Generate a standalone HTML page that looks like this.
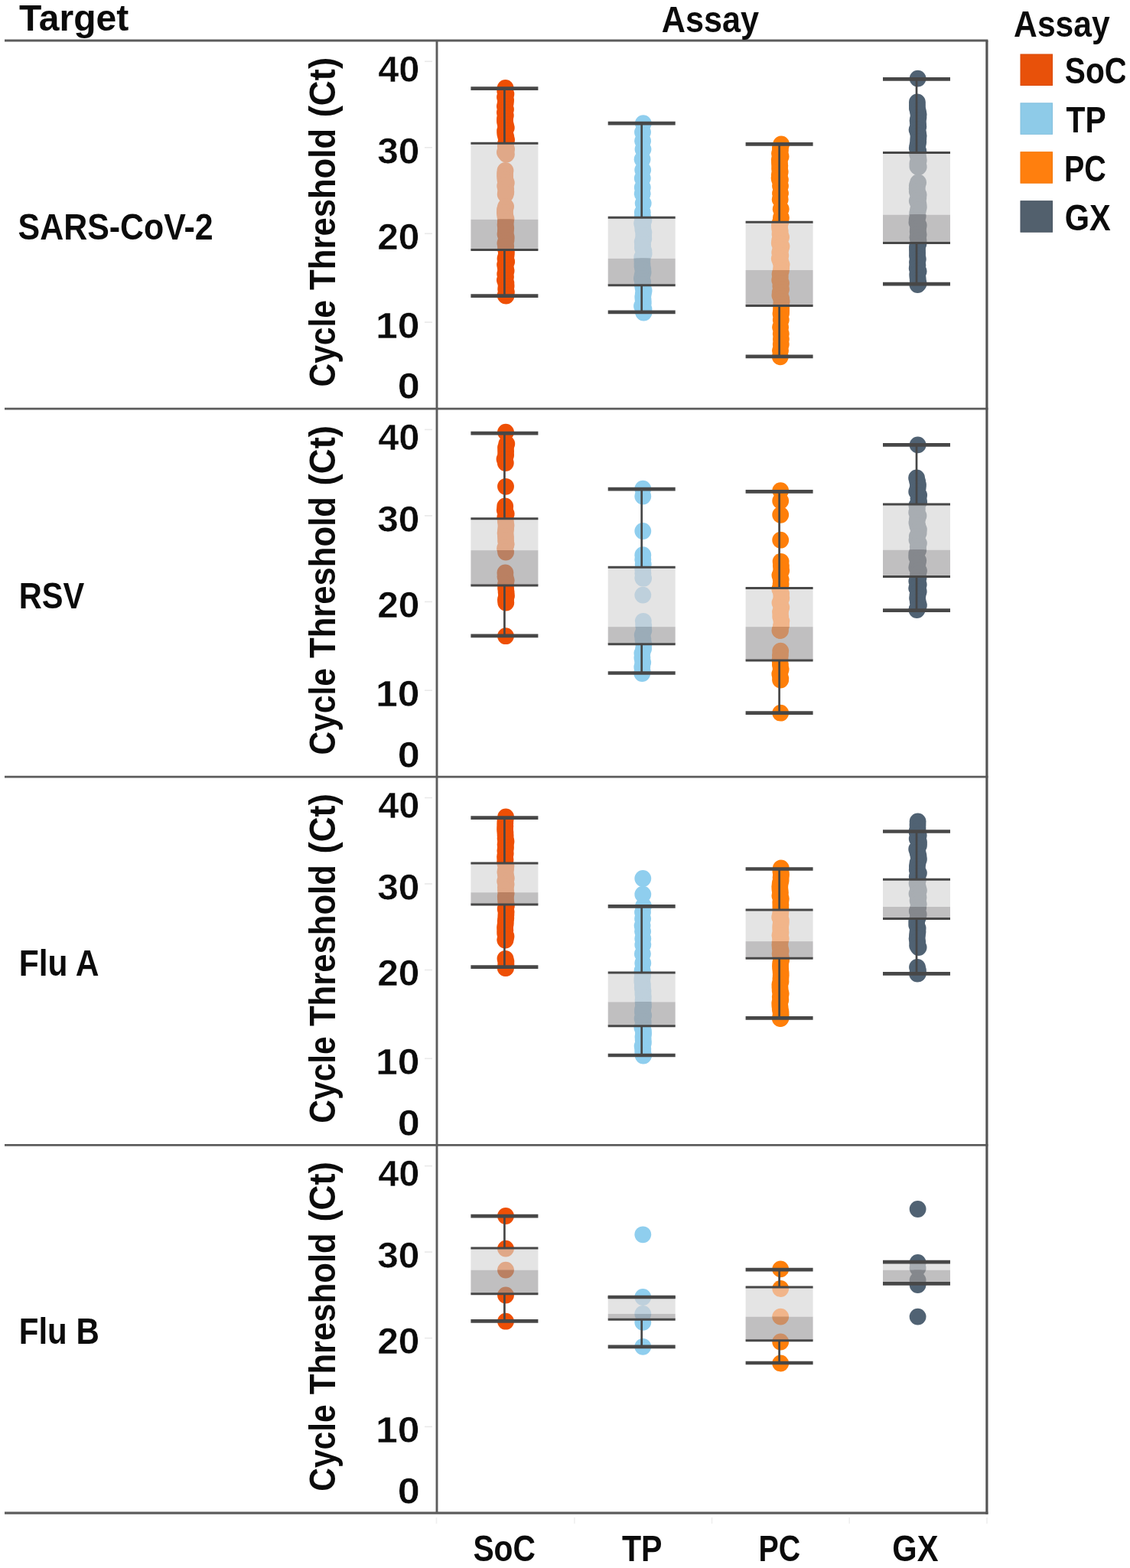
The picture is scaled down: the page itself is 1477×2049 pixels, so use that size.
<!DOCTYPE html>
<html lang="en"><head><meta charset="utf-8"><title>Cycle Threshold by Assay and Target</title>
<style>
html,body{margin:0;padding:0;background:#fff;}
body{width:1477px;height:2049px;overflow:hidden;}
svg{display:block;}
text{font-family:"Liberation Sans", "DejaVu Sans", sans-serif;font-weight:bold;font-size:48px;fill:#0b0b0b;stroke-linejoin:round;}
text.num{stroke:#fff;stroke-width:0.45px;}
text.rot{stroke:none;}
</style></head><body>
<svg width="1477" height="2049" viewBox="0 0 1477 2049">
<rect width="1477" height="2049" fill="#fff"/>

<defs><g id="d00"><circle cx="660.6" cy="115.0" r="10.9"/><circle cx="660.2" cy="119.0" r="10.9"/><circle cx="661.4" cy="123.0" r="10.9"/><circle cx="660.0" cy="127.0" r="10.9"/><circle cx="661.1" cy="131.0" r="10.9"/><circle cx="660.7" cy="135.0" r="10.9"/><circle cx="659.9" cy="139.0" r="10.9"/><circle cx="661.0" cy="143.0" r="10.9"/><circle cx="659.9" cy="147.0" r="10.9"/><circle cx="660.8" cy="151.0" r="10.9"/><circle cx="660.0" cy="155.0" r="10.9"/><circle cx="660.0" cy="159.0" r="10.9"/><circle cx="660.8" cy="163.0" r="10.9"/><circle cx="661.8" cy="167.0" r="10.9"/><circle cx="660.1" cy="171.0" r="10.9"/><circle cx="660.3" cy="175.0" r="10.9"/><circle cx="661.3" cy="179.0" r="10.9"/><circle cx="662.1" cy="183.0" r="10.9"/><circle cx="661.2" cy="187.0" r="10.9"/><circle cx="660.8" cy="191.0" r="10.9"/><circle cx="662.1" cy="195.0" r="10.9"/><circle cx="659.9" cy="199.0" r="10.9"/><circle cx="661.9" cy="201.5" r="10.9"/><circle cx="660.5" cy="223.0" r="10.9"/><circle cx="660.1" cy="227.0" r="10.9"/><circle cx="660.1" cy="231.0" r="10.9"/><circle cx="660.5" cy="235.0" r="10.9"/><circle cx="661.8" cy="239.0" r="10.9"/><circle cx="660.2" cy="243.0" r="10.9"/><circle cx="661.2" cy="247.0" r="10.9"/><circle cx="661.3" cy="251.0" r="10.9"/><circle cx="660.7" cy="254.0" r="10.9"/><circle cx="661.1" cy="270.0" r="10.9"/><circle cx="660.0" cy="274.0" r="10.9"/><circle cx="659.9" cy="278.0" r="10.9"/><circle cx="660.3" cy="282.0" r="10.9"/><circle cx="661.4" cy="286.0" r="10.9"/><circle cx="660.8" cy="290.0" r="10.9"/><circle cx="660.6" cy="294.0" r="10.9"/><circle cx="661.2" cy="298.0" r="10.9"/><circle cx="660.9" cy="302.0" r="10.9"/><circle cx="660.5" cy="306.0" r="10.9"/><circle cx="661.7" cy="310.0" r="10.9"/><circle cx="661.5" cy="314.0" r="10.9"/><circle cx="660.4" cy="318.0" r="10.9"/><circle cx="661.2" cy="322.0" r="10.9"/><circle cx="661.1" cy="326.0" r="10.9"/><circle cx="661.9" cy="330.0" r="10.9"/><circle cx="661.6" cy="334.0" r="10.9"/><circle cx="660.5" cy="338.0" r="10.9"/><circle cx="662.2" cy="342.0" r="10.9"/><circle cx="660.1" cy="346.0" r="10.9"/><circle cx="660.8" cy="350.0" r="10.9"/><circle cx="661.6" cy="354.0" r="10.9"/><circle cx="660.2" cy="358.0" r="10.9"/><circle cx="661.0" cy="362.0" r="10.9"/><circle cx="659.9" cy="366.0" r="10.9"/><circle cx="661.4" cy="370.0" r="10.9"/><circle cx="661.6" cy="374.0" r="10.9"/><circle cx="661.2" cy="378.0" r="10.9"/><circle cx="661.9" cy="382.0" r="10.9"/><circle cx="660.6" cy="386.0" r="10.9"/><circle cx="661.5" cy="386.6" r="10.9"/></g><clipPath id="cl00"><rect x="615.4" y="187.2" width="88.0" height="99.5"/></clipPath><clipPath id="cd00"><rect x="615.4" y="286.7" width="88.0" height="39.7"/></clipPath></defs>
<use href="#d00" fill="#EE4F05"/>
<rect x="615.4" y="187.2" width="88.0" height="99.5" fill="#e4e4e4"/>
<rect x="615.4" y="286.7" width="88.0" height="39.7" fill="#c0bfc0"/>
<g clip-path="url(#cl00)"><use href="#d00" fill="#E0A888"/></g>
<g clip-path="url(#cd00)"><use href="#d00" fill="#BA8062"/></g>
<line x1="659.4" x2="659.4" y1="115.6" y2="187.2" stroke="#474747" stroke-width="2.7"/>
<line x1="659.4" x2="659.4" y1="326.4" y2="386.6" stroke="#474747" stroke-width="2.7"/>
<line x1="615.4" x2="703.4" y1="187.2" y2="187.2" stroke="#474747" stroke-width="3"/>
<line x1="615.4" x2="703.4" y1="326.4" y2="326.4" stroke="#474747" stroke-width="3"/>
<line x1="615.4" x2="703.4" y1="115.6" y2="115.6" stroke="#474747" stroke-width="4.7"/>
<line x1="615.4" x2="703.4" y1="386.6" y2="386.6" stroke="#474747" stroke-width="4.7"/>
<defs><g id="d01"><circle cx="840.8" cy="161.2" r="10.9"/><circle cx="840.0" cy="172.8" r="10.9"/><circle cx="840.1" cy="184.3" r="10.9"/><circle cx="840.5" cy="195.1" r="10.9"/><circle cx="839.6" cy="208.3" r="10.9"/><circle cx="840.2" cy="222.1" r="10.9"/><circle cx="839.8" cy="233.0" r="10.9"/><circle cx="839.8" cy="245.0" r="10.9"/><circle cx="839.7" cy="253.3" r="10.9"/><circle cx="840.7" cy="265.6" r="10.9"/><circle cx="839.8" cy="277.5" r="10.9"/><circle cx="839.9" cy="284.0" r="10.9"/><circle cx="840.0" cy="284.0" r="10.9"/><circle cx="841.4" cy="288.0" r="10.9"/><circle cx="839.1" cy="292.0" r="10.9"/><circle cx="840.2" cy="296.0" r="10.9"/><circle cx="840.4" cy="300.0" r="10.9"/><circle cx="841.4" cy="304.0" r="10.9"/><circle cx="841.2" cy="308.0" r="10.9"/><circle cx="841.3" cy="312.0" r="10.9"/><circle cx="839.7" cy="316.0" r="10.9"/><circle cx="840.1" cy="320.0" r="10.9"/><circle cx="839.9" cy="324.0" r="10.9"/><circle cx="841.4" cy="328.0" r="10.9"/><circle cx="841.6" cy="332.0" r="10.9"/><circle cx="839.3" cy="336.0" r="10.9"/><circle cx="839.4" cy="340.0" r="10.9"/><circle cx="839.5" cy="344.0" r="10.9"/><circle cx="839.5" cy="348.0" r="10.9"/><circle cx="840.3" cy="352.0" r="10.9"/><circle cx="840.6" cy="356.0" r="10.9"/><circle cx="839.6" cy="360.0" r="10.9"/><circle cx="838.9" cy="364.0" r="10.9"/><circle cx="840.1" cy="368.0" r="10.9"/><circle cx="839.9" cy="372.0" r="10.9"/><circle cx="840.5" cy="376.0" r="10.9"/><circle cx="841.6" cy="380.0" r="10.9"/><circle cx="840.8" cy="384.0" r="10.9"/><circle cx="840.3" cy="388.0" r="10.9"/><circle cx="840.6" cy="392.0" r="10.9"/><circle cx="840.8" cy="396.0" r="10.9"/><circle cx="839.0" cy="400.0" r="10.9"/><circle cx="841.5" cy="404.0" r="10.9"/><circle cx="841.1" cy="408.0" r="10.9"/><circle cx="841.4" cy="408.5" r="10.9"/></g><clipPath id="cl01"><rect x="794.7" y="284.2" width="88.0" height="53.6"/></clipPath><clipPath id="cd01"><rect x="794.7" y="337.8" width="88.0" height="34.9"/></clipPath></defs>
<use href="#d01" fill="#8FCEEE"/>
<rect x="794.7" y="284.2" width="88.0" height="53.6" fill="#e4e4e4"/>
<rect x="794.7" y="337.8" width="88.0" height="34.9" fill="#c0bfc0"/>
<g clip-path="url(#cl01)"><use href="#d01" fill="#BED0DC"/></g>
<g clip-path="url(#cd01)"><use href="#d01" fill="#9BACB8"/></g>
<line x1="838.7" x2="838.7" y1="161.1" y2="284.2" stroke="#474747" stroke-width="2.7"/>
<line x1="838.7" x2="838.7" y1="372.7" y2="407.8" stroke="#474747" stroke-width="2.7"/>
<line x1="794.7" x2="882.7" y1="284.2" y2="284.2" stroke="#474747" stroke-width="3"/>
<line x1="794.7" x2="882.7" y1="372.7" y2="372.7" stroke="#474747" stroke-width="3"/>
<line x1="794.7" x2="882.7" y1="161.1" y2="161.1" stroke="#474747" stroke-width="4.7"/>
<line x1="794.7" x2="882.7" y1="407.8" y2="407.8" stroke="#474747" stroke-width="4.7"/>
<defs><g id="d02"><circle cx="1021.1" cy="188.5" r="10.9"/><circle cx="1019.9" cy="192.5" r="10.9"/><circle cx="1019.9" cy="196.5" r="10.9"/><circle cx="1019.0" cy="200.5" r="10.9"/><circle cx="1020.6" cy="204.5" r="10.9"/><circle cx="1018.8" cy="208.5" r="10.9"/><circle cx="1018.9" cy="212.5" r="10.9"/><circle cx="1019.3" cy="216.5" r="10.9"/><circle cx="1019.1" cy="220.5" r="10.9"/><circle cx="1019.7" cy="224.5" r="10.9"/><circle cx="1018.8" cy="228.5" r="10.9"/><circle cx="1018.6" cy="232.5" r="10.9"/><circle cx="1019.1" cy="235.0" r="10.9"/><circle cx="1019.9" cy="235.0" r="10.9"/><circle cx="1020.0" cy="243.1" r="10.9"/><circle cx="1020.0" cy="252.8" r="10.9"/><circle cx="1019.7" cy="260.4" r="10.9"/><circle cx="1020.7" cy="273.2" r="10.9"/><circle cx="1020.9" cy="284.4" r="10.9"/><circle cx="1020.2" cy="290.0" r="10.9"/><circle cx="1020.2" cy="290.0" r="10.9"/><circle cx="1019.0" cy="294.0" r="10.9"/><circle cx="1019.1" cy="298.0" r="10.9"/><circle cx="1019.7" cy="302.0" r="10.9"/><circle cx="1019.5" cy="306.0" r="10.9"/><circle cx="1021.1" cy="310.0" r="10.9"/><circle cx="1019.2" cy="314.0" r="10.9"/><circle cx="1018.8" cy="318.0" r="10.9"/><circle cx="1021.5" cy="322.0" r="10.9"/><circle cx="1020.3" cy="326.0" r="10.9"/><circle cx="1019.2" cy="330.0" r="10.9"/><circle cx="1020.3" cy="334.0" r="10.9"/><circle cx="1018.8" cy="338.0" r="10.9"/><circle cx="1020.3" cy="342.0" r="10.9"/><circle cx="1021.6" cy="346.0" r="10.9"/><circle cx="1021.2" cy="350.0" r="10.9"/><circle cx="1020.8" cy="354.0" r="10.9"/><circle cx="1019.5" cy="358.0" r="10.9"/><circle cx="1019.8" cy="362.0" r="10.9"/><circle cx="1019.2" cy="366.0" r="10.9"/><circle cx="1021.0" cy="370.0" r="10.9"/><circle cx="1020.3" cy="374.0" r="10.9"/><circle cx="1021.0" cy="378.0" r="10.9"/><circle cx="1019.7" cy="382.0" r="10.9"/><circle cx="1019.4" cy="386.0" r="10.9"/><circle cx="1021.1" cy="390.0" r="10.9"/><circle cx="1021.6" cy="394.0" r="10.9"/><circle cx="1021.2" cy="398.0" r="10.9"/><circle cx="1021.1" cy="402.0" r="10.9"/><circle cx="1021.1" cy="406.0" r="10.9"/><circle cx="1020.9" cy="410.0" r="10.9"/><circle cx="1020.5" cy="410.0" r="10.9"/><circle cx="1020.8" cy="418.0" r="10.9"/><circle cx="1020.1" cy="427.5" r="10.9"/><circle cx="1020.8" cy="436.2" r="10.9"/><circle cx="1020.9" cy="443.1" r="10.9"/><circle cx="1020.8" cy="450.0" r="10.9"/><circle cx="1020.0" cy="458.3" r="10.9"/><circle cx="1019.8" cy="466.3" r="10.9"/></g><clipPath id="cl02"><rect x="974.6" y="290.3" width="88.0" height="62.7"/></clipPath><clipPath id="cd02"><rect x="974.6" y="353.0" width="88.0" height="46.5"/></clipPath></defs>
<use href="#d02" fill="#FF7F0A"/>
<rect x="974.6" y="290.3" width="88.0" height="62.7" fill="#e4e4e4"/>
<rect x="974.6" y="353.0" width="88.0" height="46.5" fill="#c0bfc0"/>
<g clip-path="url(#cl02)"><use href="#d02" fill="#F1B58A"/></g>
<g clip-path="url(#cd02)"><use href="#d02" fill="#CD8F64"/></g>
<line x1="1018.6" x2="1018.6" y1="188.4" y2="290.3" stroke="#474747" stroke-width="2.7"/>
<line x1="1018.6" x2="1018.6" y1="399.5" y2="465.8" stroke="#474747" stroke-width="2.7"/>
<line x1="974.6" x2="1062.6" y1="290.3" y2="290.3" stroke="#474747" stroke-width="3"/>
<line x1="974.6" x2="1062.6" y1="399.5" y2="399.5" stroke="#474747" stroke-width="3"/>
<line x1="974.6" x2="1062.6" y1="188.4" y2="188.4" stroke="#474747" stroke-width="4.7"/>
<line x1="974.6" x2="1062.6" y1="465.8" y2="465.8" stroke="#474747" stroke-width="4.7"/>
<defs><g id="d03"><circle cx="1199.6" cy="102.6" r="10.9"/><circle cx="1198.9" cy="133.5" r="10.9"/><circle cx="1198.9" cy="137.5" r="10.9"/><circle cx="1198.9" cy="141.5" r="10.9"/><circle cx="1199.9" cy="145.5" r="10.9"/><circle cx="1200.6" cy="149.5" r="10.9"/><circle cx="1200.4" cy="153.5" r="10.9"/><circle cx="1199.6" cy="157.5" r="10.9"/><circle cx="1200.0" cy="161.5" r="10.9"/><circle cx="1200.3" cy="165.5" r="10.9"/><circle cx="1198.6" cy="169.5" r="10.9"/><circle cx="1200.0" cy="173.5" r="10.9"/><circle cx="1200.6" cy="177.5" r="10.9"/><circle cx="1200.3" cy="181.5" r="10.9"/><circle cx="1200.2" cy="185.5" r="10.9"/><circle cx="1199.5" cy="189.5" r="10.9"/><circle cx="1198.8" cy="193.5" r="10.9"/><circle cx="1200.3" cy="197.5" r="10.9"/><circle cx="1199.2" cy="201.5" r="10.9"/><circle cx="1200.3" cy="205.5" r="10.9"/><circle cx="1200.7" cy="209.5" r="10.9"/><circle cx="1199.4" cy="213.5" r="10.9"/><circle cx="1199.4" cy="217.5" r="10.9"/><circle cx="1200.7" cy="218.0" r="10.9"/><circle cx="1200.1" cy="238.5" r="10.9"/><circle cx="1198.8" cy="242.5" r="10.9"/><circle cx="1198.7" cy="246.5" r="10.9"/><circle cx="1198.8" cy="250.5" r="10.9"/><circle cx="1200.6" cy="254.5" r="10.9"/><circle cx="1200.3" cy="258.5" r="10.9"/><circle cx="1198.8" cy="262.5" r="10.9"/><circle cx="1200.4" cy="266.5" r="10.9"/><circle cx="1200.8" cy="270.5" r="10.9"/><circle cx="1200.0" cy="274.5" r="10.9"/><circle cx="1199.2" cy="278.5" r="10.9"/><circle cx="1199.7" cy="282.5" r="10.9"/><circle cx="1198.7" cy="286.5" r="10.9"/><circle cx="1198.4" cy="290.5" r="10.9"/><circle cx="1200.7" cy="294.5" r="10.9"/><circle cx="1200.0" cy="298.5" r="10.9"/><circle cx="1199.7" cy="302.5" r="10.9"/><circle cx="1200.6" cy="306.5" r="10.9"/><circle cx="1199.4" cy="310.5" r="10.9"/><circle cx="1200.5" cy="314.5" r="10.9"/><circle cx="1200.4" cy="318.5" r="10.9"/><circle cx="1198.9" cy="322.5" r="10.9"/><circle cx="1199.0" cy="326.5" r="10.9"/><circle cx="1199.1" cy="330.5" r="10.9"/><circle cx="1199.0" cy="334.5" r="10.9"/><circle cx="1199.8" cy="338.5" r="10.9"/><circle cx="1199.0" cy="342.5" r="10.9"/><circle cx="1199.4" cy="346.5" r="10.9"/><circle cx="1198.7" cy="350.5" r="10.9"/><circle cx="1200.6" cy="354.5" r="10.9"/><circle cx="1199.2" cy="358.5" r="10.9"/><circle cx="1199.5" cy="362.5" r="10.9"/><circle cx="1199.8" cy="366.5" r="10.9"/><circle cx="1200.6" cy="370.5" r="10.9"/><circle cx="1199.4" cy="372.0" r="10.9"/></g><clipPath id="cl03"><rect x="1154.0" y="199.4" width="88.0" height="81.2"/></clipPath><clipPath id="cd03"><rect x="1154.0" y="280.6" width="88.0" height="37.0"/></clipPath></defs>
<use href="#d03" fill="#506273"/>
<rect x="1154.0" y="199.4" width="88.0" height="81.2" fill="#e4e4e4"/>
<rect x="1154.0" y="280.6" width="88.0" height="37.0" fill="#c0bfc0"/>
<g clip-path="url(#cl03)"><use href="#d03" fill="#A8ADB2"/></g>
<g clip-path="url(#cd03)"><use href="#d03" fill="#85888D"/></g>
<line x1="1198.0" x2="1198.0" y1="103.4" y2="199.4" stroke="#474747" stroke-width="2.7"/>
<line x1="1198.0" x2="1198.0" y1="317.6" y2="371.2" stroke="#474747" stroke-width="2.7"/>
<line x1="1154.0" x2="1242.0" y1="199.4" y2="199.4" stroke="#474747" stroke-width="3"/>
<line x1="1154.0" x2="1242.0" y1="317.6" y2="317.6" stroke="#474747" stroke-width="3"/>
<line x1="1154.0" x2="1242.0" y1="103.4" y2="103.4" stroke="#474747" stroke-width="4.7"/>
<line x1="1154.0" x2="1242.0" y1="371.2" y2="371.2" stroke="#474747" stroke-width="4.7"/>
<defs><g id="d10"><circle cx="661.0" cy="564.7" r="10.9"/><circle cx="662.3" cy="580.0" r="10.9"/><circle cx="661.0" cy="585.0" r="10.9"/><circle cx="661.1" cy="590.0" r="10.9"/><circle cx="661.1" cy="595.0" r="10.9"/><circle cx="659.5" cy="600.0" r="10.9"/><circle cx="660.8" cy="605.0" r="10.9"/><circle cx="661.0" cy="635.8" r="10.9"/><circle cx="660.2" cy="661.5" r="10.9"/><circle cx="659.8" cy="666.5" r="10.9"/><circle cx="661.7" cy="671.5" r="10.9"/><circle cx="660.2" cy="676.5" r="10.9"/><circle cx="660.9" cy="681.5" r="10.9"/><circle cx="661.5" cy="686.5" r="10.9"/><circle cx="661.1" cy="691.5" r="10.9"/><circle cx="660.6" cy="696.5" r="10.9"/><circle cx="661.0" cy="701.5" r="10.9"/><circle cx="661.1" cy="706.5" r="10.9"/><circle cx="661.7" cy="711.5" r="10.9"/><circle cx="660.1" cy="716.5" r="10.9"/><circle cx="661.1" cy="721.5" r="10.9"/><circle cx="660.4" cy="748.5" r="10.9"/><circle cx="660.5" cy="753.5" r="10.9"/><circle cx="661.7" cy="758.5" r="10.9"/><circle cx="661.0" cy="763.5" r="10.9"/><circle cx="661.1" cy="768.5" r="10.9"/><circle cx="661.6" cy="773.5" r="10.9"/><circle cx="662.0" cy="778.5" r="10.9"/><circle cx="660.9" cy="783.5" r="10.9"/><circle cx="661.3" cy="787.5" r="10.9"/><circle cx="661.0" cy="831.2" r="10.9"/></g><clipPath id="cl10"><rect x="615.4" y="677.7" width="88.0" height="41.4"/></clipPath><clipPath id="cd10"><rect x="615.4" y="719.1" width="88.0" height="45.9"/></clipPath></defs>
<use href="#d10" fill="#EE4F05"/>
<rect x="615.4" y="677.7" width="88.0" height="41.4" fill="#e4e4e4"/>
<rect x="615.4" y="719.1" width="88.0" height="45.9" fill="#c0bfc0"/>
<g clip-path="url(#cl10)"><use href="#d10" fill="#E0A888"/></g>
<g clip-path="url(#cd10)"><use href="#d10" fill="#BA8062"/></g>
<line x1="659.4" x2="659.4" y1="566.1" y2="677.7" stroke="#474747" stroke-width="2.7"/>
<line x1="659.4" x2="659.4" y1="765.0" y2="830.8" stroke="#474747" stroke-width="2.7"/>
<line x1="615.4" x2="703.4" y1="677.7" y2="677.7" stroke="#474747" stroke-width="3"/>
<line x1="615.4" x2="703.4" y1="765.0" y2="765.0" stroke="#474747" stroke-width="3"/>
<line x1="615.4" x2="703.4" y1="566.1" y2="566.1" stroke="#474747" stroke-width="4.7"/>
<line x1="615.4" x2="703.4" y1="830.8" y2="830.8" stroke="#474747" stroke-width="4.7"/>
<defs><g id="d11"><circle cx="840.3" cy="638.7" r="10.9"/><circle cx="840.3" cy="648.5" r="10.9"/><circle cx="840.3" cy="694.0" r="10.9"/><circle cx="840.3" cy="725.2" r="10.9"/><circle cx="840.3" cy="731.2" r="10.9"/><circle cx="840.7" cy="737.2" r="10.9"/><circle cx="840.2" cy="743.2" r="10.9"/><circle cx="840.4" cy="749.2" r="10.9"/><circle cx="840.3" cy="755.2" r="10.9"/><circle cx="841.1" cy="755.7" r="10.9"/><circle cx="840.3" cy="777.6" r="10.9"/><circle cx="840.8" cy="811.8" r="10.9"/><circle cx="841.2" cy="817.8" r="10.9"/><circle cx="841.4" cy="823.8" r="10.9"/><circle cx="839.7" cy="829.8" r="10.9"/><circle cx="840.4" cy="835.8" r="10.9"/><circle cx="841.4" cy="841.8" r="10.9"/><circle cx="841.1" cy="847.8" r="10.9"/><circle cx="839.4" cy="853.8" r="10.9"/><circle cx="839.4" cy="859.8" r="10.9"/><circle cx="840.2" cy="865.8" r="10.9"/><circle cx="839.3" cy="871.8" r="10.9"/><circle cx="839.7" cy="877.8" r="10.9"/><circle cx="839.3" cy="880.0" r="10.9"/></g><clipPath id="cl11"><rect x="794.7" y="741.3" width="88.0" height="77.8"/></clipPath><clipPath id="cd11"><rect x="794.7" y="819.1" width="88.0" height="22.6"/></clipPath></defs>
<use href="#d11" fill="#8FCEEE"/>
<rect x="794.7" y="741.3" width="88.0" height="77.8" fill="#e4e4e4"/>
<rect x="794.7" y="819.1" width="88.0" height="22.6" fill="#c0bfc0"/>
<g clip-path="url(#cl11)"><use href="#d11" fill="#BED0DC"/></g>
<g clip-path="url(#cd11)"><use href="#d11" fill="#9BACB8"/></g>
<line x1="838.7" x2="838.7" y1="639.2" y2="741.3" stroke="#474747" stroke-width="2.7"/>
<line x1="838.7" x2="838.7" y1="841.7" y2="879.5" stroke="#474747" stroke-width="2.7"/>
<line x1="794.7" x2="882.7" y1="741.3" y2="741.3" stroke="#474747" stroke-width="3"/>
<line x1="794.7" x2="882.7" y1="841.7" y2="841.7" stroke="#474747" stroke-width="3"/>
<line x1="794.7" x2="882.7" y1="639.2" y2="639.2" stroke="#474747" stroke-width="4.7"/>
<line x1="794.7" x2="882.7" y1="879.5" y2="879.5" stroke="#474747" stroke-width="4.7"/>
<defs><g id="d12"><circle cx="1020.2" cy="641.1" r="10.9"/><circle cx="1020.2" cy="654.5" r="10.9"/><circle cx="1020.2" cy="672.8" r="10.9"/><circle cx="1020.2" cy="705.7" r="10.9"/><circle cx="1020.6" cy="733.8" r="10.9"/><circle cx="1020.9" cy="739.8" r="10.9"/><circle cx="1021.2" cy="745.8" r="10.9"/><circle cx="1019.4" cy="751.8" r="10.9"/><circle cx="1020.7" cy="757.8" r="10.9"/><circle cx="1020.6" cy="763.8" r="10.9"/><circle cx="1019.3" cy="769.8" r="10.9"/><circle cx="1021.1" cy="775.8" r="10.9"/><circle cx="1021.3" cy="781.8" r="10.9"/><circle cx="1019.5" cy="787.8" r="10.9"/><circle cx="1021.3" cy="793.8" r="10.9"/><circle cx="1020.0" cy="799.8" r="10.9"/><circle cx="1020.2" cy="805.8" r="10.9"/><circle cx="1021.4" cy="811.8" r="10.9"/><circle cx="1021.0" cy="817.8" r="10.9"/><circle cx="1019.4" cy="823.8" r="10.9"/><circle cx="1020.0" cy="823.9" r="10.9"/><circle cx="1020.2" cy="850.7" r="10.9"/><circle cx="1019.9" cy="856.7" r="10.9"/><circle cx="1019.6" cy="862.7" r="10.9"/><circle cx="1019.9" cy="868.7" r="10.9"/><circle cx="1020.6" cy="874.7" r="10.9"/><circle cx="1019.3" cy="880.7" r="10.9"/><circle cx="1020.3" cy="886.7" r="10.9"/><circle cx="1020.1" cy="888.5" r="10.9"/><circle cx="1020.2" cy="931.7" r="10.9"/></g><clipPath id="cl12"><rect x="974.6" y="768.6" width="88.0" height="50.5"/></clipPath><clipPath id="cd12"><rect x="974.6" y="819.1" width="88.0" height="43.8"/></clipPath></defs>
<use href="#d12" fill="#FF7F0A"/>
<rect x="974.6" y="768.6" width="88.0" height="50.5" fill="#e4e4e4"/>
<rect x="974.6" y="819.1" width="88.0" height="43.8" fill="#c0bfc0"/>
<g clip-path="url(#cl12)"><use href="#d12" fill="#F1B58A"/></g>
<g clip-path="url(#cd12)"><use href="#d12" fill="#CD8F64"/></g>
<line x1="1018.6" x2="1018.6" y1="642.4" y2="768.6" stroke="#474747" stroke-width="2.7"/>
<line x1="1018.6" x2="1018.6" y1="862.9" y2="931.7" stroke="#474747" stroke-width="2.7"/>
<line x1="974.6" x2="1062.6" y1="768.6" y2="768.6" stroke="#474747" stroke-width="3"/>
<line x1="974.6" x2="1062.6" y1="862.9" y2="862.9" stroke="#474747" stroke-width="3"/>
<line x1="974.6" x2="1062.6" y1="642.4" y2="642.4" stroke="#474747" stroke-width="4.7"/>
<line x1="974.6" x2="1062.6" y1="931.7" y2="931.7" stroke="#474747" stroke-width="4.7"/>
<defs><g id="d13"><circle cx="1199.6" cy="581.4" r="10.9"/><circle cx="1198.1" cy="624.5" r="10.9"/><circle cx="1199.1" cy="629.0" r="10.9"/><circle cx="1200.0" cy="633.5" r="10.9"/><circle cx="1199.6" cy="638.0" r="10.9"/><circle cx="1198.2" cy="642.5" r="10.9"/><circle cx="1201.1" cy="647.0" r="10.9"/><circle cx="1200.5" cy="651.5" r="10.9"/><circle cx="1201.1" cy="656.0" r="10.9"/><circle cx="1198.4" cy="660.5" r="10.9"/><circle cx="1198.9" cy="665.0" r="10.9"/><circle cx="1198.2" cy="669.5" r="10.9"/><circle cx="1200.5" cy="674.0" r="10.9"/><circle cx="1198.9" cy="678.5" r="10.9"/><circle cx="1198.4" cy="683.0" r="10.9"/><circle cx="1199.4" cy="687.5" r="10.9"/><circle cx="1200.9" cy="692.0" r="10.9"/><circle cx="1200.6" cy="696.5" r="10.9"/><circle cx="1198.8" cy="701.0" r="10.9"/><circle cx="1198.5" cy="705.5" r="10.9"/><circle cx="1200.9" cy="710.0" r="10.9"/><circle cx="1199.8" cy="714.5" r="10.9"/><circle cx="1200.2" cy="719.0" r="10.9"/><circle cx="1198.3" cy="723.5" r="10.9"/><circle cx="1198.2" cy="728.0" r="10.9"/><circle cx="1200.2" cy="732.5" r="10.9"/><circle cx="1199.4" cy="737.0" r="10.9"/><circle cx="1198.3" cy="741.5" r="10.9"/><circle cx="1201.0" cy="746.0" r="10.9"/><circle cx="1200.0" cy="750.5" r="10.9"/><circle cx="1200.5" cy="755.0" r="10.9"/><circle cx="1198.3" cy="759.5" r="10.9"/><circle cx="1200.7" cy="764.0" r="10.9"/><circle cx="1198.2" cy="768.5" r="10.9"/><circle cx="1200.7" cy="773.0" r="10.9"/><circle cx="1199.5" cy="777.5" r="10.9"/><circle cx="1199.1" cy="782.0" r="10.9"/><circle cx="1199.8" cy="786.5" r="10.9"/><circle cx="1200.9" cy="791.0" r="10.9"/><circle cx="1198.9" cy="795.5" r="10.9"/><circle cx="1198.4" cy="797.0" r="10.9"/></g><clipPath id="cl13"><rect x="1154.0" y="658.9" width="88.0" height="59.7"/></clipPath><clipPath id="cd13"><rect x="1154.0" y="718.6" width="88.0" height="34.9"/></clipPath></defs>
<use href="#d13" fill="#506273"/>
<rect x="1154.0" y="658.9" width="88.0" height="59.7" fill="#e4e4e4"/>
<rect x="1154.0" y="718.6" width="88.0" height="34.9" fill="#c0bfc0"/>
<g clip-path="url(#cl13)"><use href="#d13" fill="#A8ADB2"/></g>
<g clip-path="url(#cd13)"><use href="#d13" fill="#85888D"/></g>
<line x1="1198.0" x2="1198.0" y1="581.4" y2="658.9" stroke="#474747" stroke-width="2.7"/>
<line x1="1198.0" x2="1198.0" y1="753.5" y2="797.6" stroke="#474747" stroke-width="2.7"/>
<line x1="1154.0" x2="1242.0" y1="658.9" y2="658.9" stroke="#474747" stroke-width="3"/>
<line x1="1154.0" x2="1242.0" y1="753.5" y2="753.5" stroke="#474747" stroke-width="3"/>
<line x1="1154.0" x2="1242.0" y1="581.4" y2="581.4" stroke="#474747" stroke-width="4.7"/>
<line x1="1154.0" x2="1242.0" y1="797.6" y2="797.6" stroke="#474747" stroke-width="4.7"/>
<defs><g id="d20"><circle cx="661.1" cy="1067.5" r="10.9"/><circle cx="660.5" cy="1071.5" r="10.9"/><circle cx="660.3" cy="1075.5" r="10.9"/><circle cx="660.3" cy="1079.5" r="10.9"/><circle cx="660.1" cy="1083.5" r="10.9"/><circle cx="660.4" cy="1087.5" r="10.9"/><circle cx="660.6" cy="1091.5" r="10.9"/><circle cx="660.6" cy="1095.5" r="10.9"/><circle cx="661.5" cy="1099.5" r="10.9"/><circle cx="660.6" cy="1103.5" r="10.9"/><circle cx="661.0" cy="1107.5" r="10.9"/><circle cx="660.4" cy="1111.5" r="10.9"/><circle cx="660.7" cy="1115.5" r="10.9"/><circle cx="660.1" cy="1119.5" r="10.9"/><circle cx="660.5" cy="1123.5" r="10.9"/><circle cx="660.1" cy="1127.5" r="10.9"/><circle cx="661.4" cy="1131.5" r="10.9"/><circle cx="661.1" cy="1135.5" r="10.9"/><circle cx="660.4" cy="1139.5" r="10.9"/><circle cx="661.0" cy="1143.5" r="10.9"/><circle cx="661.8" cy="1147.5" r="10.9"/><circle cx="660.2" cy="1151.5" r="10.9"/><circle cx="661.6" cy="1155.5" r="10.9"/><circle cx="660.9" cy="1159.5" r="10.9"/><circle cx="661.0" cy="1163.5" r="10.9"/><circle cx="661.6" cy="1167.5" r="10.9"/><circle cx="660.8" cy="1171.5" r="10.9"/><circle cx="661.0" cy="1175.5" r="10.9"/><circle cx="661.4" cy="1179.5" r="10.9"/><circle cx="661.9" cy="1183.5" r="10.9"/><circle cx="660.7" cy="1187.5" r="10.9"/><circle cx="661.6" cy="1191.5" r="10.9"/><circle cx="661.4" cy="1195.5" r="10.9"/><circle cx="661.3" cy="1199.5" r="10.9"/><circle cx="660.8" cy="1203.5" r="10.9"/><circle cx="660.7" cy="1207.5" r="10.9"/><circle cx="660.1" cy="1211.5" r="10.9"/><circle cx="660.3" cy="1215.5" r="10.9"/><circle cx="660.2" cy="1219.5" r="10.9"/><circle cx="661.5" cy="1223.5" r="10.9"/><circle cx="660.5" cy="1227.5" r="10.9"/><circle cx="660.4" cy="1228.5" r="10.9"/><circle cx="660.5" cy="1252.8" r="10.9"/><circle cx="661.4" cy="1256.8" r="10.9"/><circle cx="661.4" cy="1260.8" r="10.9"/><circle cx="661.2" cy="1264.8" r="10.9"/><circle cx="660.7" cy="1265.0" r="10.9"/></g><clipPath id="cl20"><rect x="615.4" y="1128.0" width="88.0" height="38.2"/></clipPath><clipPath id="cd20"><rect x="615.4" y="1166.2" width="88.0" height="15.9"/></clipPath></defs>
<use href="#d20" fill="#EE4F05"/>
<rect x="615.4" y="1128.0" width="88.0" height="38.2" fill="#e4e4e4"/>
<rect x="615.4" y="1166.2" width="88.0" height="15.9" fill="#c0bfc0"/>
<g clip-path="url(#cl20)"><use href="#d20" fill="#E0A888"/></g>
<g clip-path="url(#cd20)"><use href="#d20" fill="#BA8062"/></g>
<line x1="659.4" x2="659.4" y1="1068.7" y2="1128.0" stroke="#474747" stroke-width="2.7"/>
<line x1="659.4" x2="659.4" y1="1182.1" y2="1263.7" stroke="#474747" stroke-width="2.7"/>
<line x1="615.4" x2="703.4" y1="1128.0" y2="1128.0" stroke="#474747" stroke-width="3"/>
<line x1="615.4" x2="703.4" y1="1182.1" y2="1182.1" stroke="#474747" stroke-width="3"/>
<line x1="615.4" x2="703.4" y1="1068.7" y2="1068.7" stroke="#474747" stroke-width="4.7"/>
<line x1="615.4" x2="703.4" y1="1263.7" y2="1263.7" stroke="#474747" stroke-width="4.7"/>
<defs><g id="d21"><circle cx="840.3" cy="1148.0" r="10.9"/><circle cx="840.3" cy="1168.7" r="10.9"/><circle cx="841.0" cy="1184.0" r="10.9"/><circle cx="840.0" cy="1192.1" r="10.9"/><circle cx="840.1" cy="1200.4" r="10.9"/><circle cx="839.6" cy="1209.6" r="10.9"/><circle cx="840.1" cy="1217.2" r="10.9"/><circle cx="840.3" cy="1226.4" r="10.9"/><circle cx="840.3" cy="1234.6" r="10.9"/><circle cx="839.9" cy="1246.5" r="10.9"/><circle cx="840.3" cy="1258.5" r="10.9"/><circle cx="839.6" cy="1268.2" r="10.9"/><circle cx="840.0" cy="1271.0" r="10.9"/><circle cx="839.5" cy="1271.0" r="10.9"/><circle cx="840.1" cy="1275.0" r="10.9"/><circle cx="839.4" cy="1279.0" r="10.9"/><circle cx="839.4" cy="1283.0" r="10.9"/><circle cx="839.9" cy="1287.0" r="10.9"/><circle cx="839.8" cy="1291.0" r="10.9"/><circle cx="840.5" cy="1295.0" r="10.9"/><circle cx="840.4" cy="1299.0" r="10.9"/><circle cx="840.8" cy="1303.0" r="10.9"/><circle cx="840.6" cy="1307.0" r="10.9"/><circle cx="840.7" cy="1311.0" r="10.9"/><circle cx="841.0" cy="1315.0" r="10.9"/><circle cx="840.1" cy="1319.0" r="10.9"/><circle cx="840.0" cy="1323.0" r="10.9"/><circle cx="841.2" cy="1327.0" r="10.9"/><circle cx="839.6" cy="1331.0" r="10.9"/><circle cx="840.7" cy="1335.0" r="10.9"/><circle cx="840.6" cy="1339.0" r="10.9"/><circle cx="839.4" cy="1343.0" r="10.9"/><circle cx="840.9" cy="1347.0" r="10.9"/><circle cx="841.1" cy="1351.0" r="10.9"/><circle cx="840.5" cy="1355.0" r="10.9"/><circle cx="840.7" cy="1359.0" r="10.9"/><circle cx="840.9" cy="1363.0" r="10.9"/><circle cx="839.6" cy="1367.0" r="10.9"/><circle cx="840.3" cy="1371.0" r="10.9"/><circle cx="840.3" cy="1375.0" r="10.9"/><circle cx="840.9" cy="1379.0" r="10.9"/><circle cx="840.9" cy="1379.5" r="10.9"/></g><clipPath id="cl21"><rect x="794.7" y="1271.0" width="88.0" height="38.3"/></clipPath><clipPath id="cd21"><rect x="794.7" y="1309.3" width="88.0" height="31.4"/></clipPath></defs>
<use href="#d21" fill="#8FCEEE"/>
<rect x="794.7" y="1271.0" width="88.0" height="38.3" fill="#e4e4e4"/>
<rect x="794.7" y="1309.3" width="88.0" height="31.4" fill="#c0bfc0"/>
<g clip-path="url(#cl21)"><use href="#d21" fill="#BED0DC"/></g>
<g clip-path="url(#cd21)"><use href="#d21" fill="#9BACB8"/></g>
<line x1="838.7" x2="838.7" y1="1184.3" y2="1271.0" stroke="#474747" stroke-width="2.7"/>
<line x1="838.7" x2="838.7" y1="1340.7" y2="1379.0" stroke="#474747" stroke-width="2.7"/>
<line x1="794.7" x2="882.7" y1="1271.0" y2="1271.0" stroke="#474747" stroke-width="3"/>
<line x1="794.7" x2="882.7" y1="1340.7" y2="1340.7" stroke="#474747" stroke-width="3"/>
<line x1="794.7" x2="882.7" y1="1184.3" y2="1184.3" stroke="#474747" stroke-width="4.7"/>
<line x1="794.7" x2="882.7" y1="1379.0" y2="1379.0" stroke="#474747" stroke-width="4.7"/>
<defs><g id="d22"><circle cx="1020.8" cy="1134.5" r="10.9"/><circle cx="1020.4" cy="1138.5" r="10.9"/><circle cx="1021.0" cy="1142.5" r="10.9"/><circle cx="1020.6" cy="1146.5" r="10.9"/><circle cx="1020.6" cy="1150.5" r="10.9"/><circle cx="1019.7" cy="1154.5" r="10.9"/><circle cx="1019.3" cy="1158.5" r="10.9"/><circle cx="1019.5" cy="1162.5" r="10.9"/><circle cx="1019.9" cy="1166.5" r="10.9"/><circle cx="1019.4" cy="1170.5" r="10.9"/><circle cx="1020.8" cy="1174.5" r="10.9"/><circle cx="1020.3" cy="1178.5" r="10.9"/><circle cx="1020.4" cy="1182.5" r="10.9"/><circle cx="1020.4" cy="1186.5" r="10.9"/><circle cx="1020.5" cy="1190.5" r="10.9"/><circle cx="1020.2" cy="1194.5" r="10.9"/><circle cx="1019.2" cy="1198.5" r="10.9"/><circle cx="1020.8" cy="1202.5" r="10.9"/><circle cx="1020.7" cy="1206.5" r="10.9"/><circle cx="1020.2" cy="1210.5" r="10.9"/><circle cx="1020.3" cy="1214.5" r="10.9"/><circle cx="1020.5" cy="1218.5" r="10.9"/><circle cx="1019.4" cy="1222.5" r="10.9"/><circle cx="1020.7" cy="1226.5" r="10.9"/><circle cx="1019.7" cy="1230.5" r="10.9"/><circle cx="1019.4" cy="1234.5" r="10.9"/><circle cx="1019.7" cy="1238.5" r="10.9"/><circle cx="1020.6" cy="1242.5" r="10.9"/><circle cx="1019.6" cy="1246.5" r="10.9"/><circle cx="1020.7" cy="1250.5" r="10.9"/><circle cx="1021.1" cy="1254.5" r="10.9"/><circle cx="1020.2" cy="1258.5" r="10.9"/><circle cx="1020.0" cy="1262.5" r="10.9"/><circle cx="1020.2" cy="1266.5" r="10.9"/><circle cx="1020.6" cy="1270.5" r="10.9"/><circle cx="1020.7" cy="1274.5" r="10.9"/><circle cx="1020.4" cy="1278.5" r="10.9"/><circle cx="1020.5" cy="1282.5" r="10.9"/><circle cx="1019.4" cy="1286.5" r="10.9"/><circle cx="1019.5" cy="1290.5" r="10.9"/><circle cx="1019.7" cy="1294.5" r="10.9"/><circle cx="1020.7" cy="1298.5" r="10.9"/><circle cx="1019.8" cy="1302.5" r="10.9"/><circle cx="1020.3" cy="1306.5" r="10.9"/><circle cx="1019.3" cy="1310.5" r="10.9"/><circle cx="1019.4" cy="1314.5" r="10.9"/><circle cx="1019.8" cy="1318.5" r="10.9"/><circle cx="1020.5" cy="1322.5" r="10.9"/><circle cx="1020.6" cy="1326.5" r="10.9"/><circle cx="1020.5" cy="1330.5" r="10.9"/><circle cx="1019.8" cy="1331.0" r="10.9"/></g><clipPath id="cl22"><rect x="974.6" y="1188.9" width="88.0" height="41.2"/></clipPath><clipPath id="cd22"><rect x="974.6" y="1230.1" width="88.0" height="22.2"/></clipPath></defs>
<use href="#d22" fill="#FF7F0A"/>
<rect x="974.6" y="1188.9" width="88.0" height="41.2" fill="#e4e4e4"/>
<rect x="974.6" y="1230.1" width="88.0" height="22.2" fill="#c0bfc0"/>
<g clip-path="url(#cl22)"><use href="#d22" fill="#F1B58A"/></g>
<g clip-path="url(#cd22)"><use href="#d22" fill="#CD8F64"/></g>
<line x1="1018.6" x2="1018.6" y1="1135.5" y2="1188.9" stroke="#474747" stroke-width="2.7"/>
<line x1="1018.6" x2="1018.6" y1="1252.3" y2="1330.3" stroke="#474747" stroke-width="2.7"/>
<line x1="974.6" x2="1062.6" y1="1188.9" y2="1188.9" stroke="#474747" stroke-width="3"/>
<line x1="974.6" x2="1062.6" y1="1252.3" y2="1252.3" stroke="#474747" stroke-width="3"/>
<line x1="974.6" x2="1062.6" y1="1135.5" y2="1135.5" stroke="#474747" stroke-width="4.7"/>
<line x1="974.6" x2="1062.6" y1="1330.3" y2="1330.3" stroke="#474747" stroke-width="4.7"/>
<defs><g id="d23"><circle cx="1199.6" cy="1073.5" r="10.9"/><circle cx="1199.5" cy="1078.0" r="10.9"/><circle cx="1199.5" cy="1082.5" r="10.9"/><circle cx="1198.5" cy="1087.0" r="10.9"/><circle cx="1200.7" cy="1091.5" r="10.9"/><circle cx="1198.7" cy="1096.0" r="10.9"/><circle cx="1201.0" cy="1100.5" r="10.9"/><circle cx="1200.9" cy="1105.0" r="10.9"/><circle cx="1198.2" cy="1109.5" r="10.9"/><circle cx="1199.5" cy="1114.0" r="10.9"/><circle cx="1200.5" cy="1118.5" r="10.9"/><circle cx="1200.9" cy="1123.0" r="10.9"/><circle cx="1199.5" cy="1127.5" r="10.9"/><circle cx="1198.9" cy="1132.0" r="10.9"/><circle cx="1198.8" cy="1136.5" r="10.9"/><circle cx="1200.9" cy="1141.0" r="10.9"/><circle cx="1198.8" cy="1145.5" r="10.9"/><circle cx="1199.8" cy="1150.0" r="10.9"/><circle cx="1198.6" cy="1154.5" r="10.9"/><circle cx="1199.7" cy="1159.0" r="10.9"/><circle cx="1200.9" cy="1163.5" r="10.9"/><circle cx="1198.5" cy="1168.0" r="10.9"/><circle cx="1200.5" cy="1172.5" r="10.9"/><circle cx="1199.6" cy="1177.0" r="10.9"/><circle cx="1200.7" cy="1181.5" r="10.9"/><circle cx="1200.2" cy="1186.0" r="10.9"/><circle cx="1198.8" cy="1190.5" r="10.9"/><circle cx="1200.7" cy="1195.0" r="10.9"/><circle cx="1199.6" cy="1199.5" r="10.9"/><circle cx="1198.2" cy="1204.0" r="10.9"/><circle cx="1198.2" cy="1208.5" r="10.9"/><circle cx="1199.6" cy="1213.0" r="10.9"/><circle cx="1199.5" cy="1217.5" r="10.9"/><circle cx="1199.0" cy="1222.0" r="10.9"/><circle cx="1198.6" cy="1226.5" r="10.9"/><circle cx="1199.2" cy="1231.0" r="10.9"/><circle cx="1199.1" cy="1235.5" r="10.9"/><circle cx="1200.6" cy="1238.0" r="10.9"/><circle cx="1199.0" cy="1264.0" r="10.9"/><circle cx="1199.9" cy="1268.0" r="10.9"/><circle cx="1200.0" cy="1272.0" r="10.9"/><circle cx="1199.1" cy="1272.5" r="10.9"/></g><clipPath id="cl23"><rect x="1154.0" y="1149.2" width="88.0" height="35.8"/></clipPath><clipPath id="cd23"><rect x="1154.0" y="1185.0" width="88.0" height="15.6"/></clipPath></defs>
<use href="#d23" fill="#506273"/>
<rect x="1154.0" y="1149.2" width="88.0" height="35.8" fill="#e4e4e4"/>
<rect x="1154.0" y="1185.0" width="88.0" height="15.6" fill="#c0bfc0"/>
<g clip-path="url(#cl23)"><use href="#d23" fill="#A8ADB2"/></g>
<g clip-path="url(#cd23)"><use href="#d23" fill="#85888D"/></g>
<line x1="1198.0" x2="1198.0" y1="1086.5" y2="1149.2" stroke="#474747" stroke-width="2.7"/>
<line x1="1198.0" x2="1198.0" y1="1200.6" y2="1272.3" stroke="#474747" stroke-width="2.7"/>
<line x1="1154.0" x2="1242.0" y1="1149.2" y2="1149.2" stroke="#474747" stroke-width="3"/>
<line x1="1154.0" x2="1242.0" y1="1200.6" y2="1200.6" stroke="#474747" stroke-width="3"/>
<line x1="1154.0" x2="1242.0" y1="1086.5" y2="1086.5" stroke="#474747" stroke-width="4.7"/>
<line x1="1154.0" x2="1242.0" y1="1272.3" y2="1272.3" stroke="#474747" stroke-width="4.7"/>
<defs><g id="d30"><circle cx="661.0" cy="1589.0" r="10.9"/><circle cx="661.0" cy="1631.6" r="10.9"/><circle cx="661.0" cy="1659.6" r="10.9"/><circle cx="661.0" cy="1692.5" r="10.9"/><circle cx="661.0" cy="1726.7" r="10.9"/></g><clipPath id="cl30"><rect x="615.4" y="1630.9" width="88.0" height="28.7"/></clipPath><clipPath id="cd30"><rect x="615.4" y="1659.6" width="88.0" height="31.2"/></clipPath></defs>
<use href="#d30" fill="#EE4F05"/>
<rect x="615.4" y="1630.9" width="88.0" height="28.7" fill="#e4e4e4"/>
<rect x="615.4" y="1659.6" width="88.0" height="31.2" fill="#c0bfc0"/>
<g clip-path="url(#cl30)"><use href="#d30" fill="#E0A888"/></g>
<g clip-path="url(#cd30)"><use href="#d30" fill="#BA8062"/></g>
<line x1="659.4" x2="659.4" y1="1589.2" y2="1630.9" stroke="#474747" stroke-width="2.7"/>
<line x1="659.4" x2="659.4" y1="1690.8" y2="1726.4" stroke="#474747" stroke-width="2.7"/>
<line x1="615.4" x2="703.4" y1="1630.9" y2="1630.9" stroke="#474747" stroke-width="3"/>
<line x1="615.4" x2="703.4" y1="1690.8" y2="1690.8" stroke="#474747" stroke-width="3"/>
<line x1="615.4" x2="703.4" y1="1589.2" y2="1589.2" stroke="#474747" stroke-width="4.7"/>
<line x1="615.4" x2="703.4" y1="1726.4" y2="1726.4" stroke="#474747" stroke-width="4.7"/>
<defs><g id="d31"><circle cx="840.3" cy="1613.3" r="10.9"/><circle cx="840.3" cy="1695.0" r="10.9"/><circle cx="840.3" cy="1717.0" r="10.9"/><circle cx="840.3" cy="1727.9" r="10.9"/><circle cx="840.3" cy="1759.8" r="10.9"/></g><clipPath id="cl31"><rect x="794.7" y="1695.0" width="88.0" height="21.9"/></clipPath><clipPath id="cd31"><rect x="794.7" y="1716.9" width="88.0" height="7.3"/></clipPath></defs>
<use href="#d31" fill="#8FCEEE"/>
<rect x="794.7" y="1695.0" width="88.0" height="21.9" fill="#e4e4e4"/>
<rect x="794.7" y="1716.9" width="88.0" height="7.3" fill="#c0bfc0"/>
<g clip-path="url(#cl31)"><use href="#d31" fill="#BED0DC"/></g>
<g clip-path="url(#cd31)"><use href="#d31" fill="#9BACB8"/></g>
<line x1="838.7" x2="838.7" y1="1724.2" y2="1759.8" stroke="#474747" stroke-width="2.7"/>
<line x1="794.7" x2="882.7" y1="1695.0" y2="1695.0" stroke="#474747" stroke-width="3"/>
<line x1="794.7" x2="882.7" y1="1724.2" y2="1724.2" stroke="#474747" stroke-width="3"/>
<line x1="794.7" x2="882.7" y1="1695.0" y2="1695.0" stroke="#474747" stroke-width="4.7"/>
<line x1="794.7" x2="882.7" y1="1759.8" y2="1759.8" stroke="#474747" stroke-width="4.7"/>
<defs><g id="d32"><circle cx="1020.2" cy="1658.4" r="10.9"/><circle cx="1020.2" cy="1684.0" r="10.9"/><circle cx="1020.2" cy="1720.6" r="10.9"/><circle cx="1020.2" cy="1753.5" r="10.9"/><circle cx="1020.2" cy="1781.5" r="10.9"/></g><clipPath id="cl32"><rect x="974.6" y="1682.1" width="88.0" height="38.5"/></clipPath><clipPath id="cd32"><rect x="974.6" y="1720.6" width="88.0" height="31.2"/></clipPath></defs>
<use href="#d32" fill="#FF7F0A"/>
<rect x="974.6" y="1682.1" width="88.0" height="38.5" fill="#e4e4e4"/>
<rect x="974.6" y="1720.6" width="88.0" height="31.2" fill="#c0bfc0"/>
<g clip-path="url(#cl32)"><use href="#d32" fill="#F1B58A"/></g>
<g clip-path="url(#cd32)"><use href="#d32" fill="#CD8F64"/></g>
<line x1="1018.6" x2="1018.6" y1="1659.2" y2="1682.1" stroke="#474747" stroke-width="2.7"/>
<line x1="1018.6" x2="1018.6" y1="1751.8" y2="1781.0" stroke="#474747" stroke-width="2.7"/>
<line x1="974.6" x2="1062.6" y1="1682.1" y2="1682.1" stroke="#474747" stroke-width="3"/>
<line x1="974.6" x2="1062.6" y1="1751.8" y2="1751.8" stroke="#474747" stroke-width="3"/>
<line x1="974.6" x2="1062.6" y1="1659.2" y2="1659.2" stroke="#474747" stroke-width="4.7"/>
<line x1="974.6" x2="1062.6" y1="1781.0" y2="1781.0" stroke="#474747" stroke-width="4.7"/>
<defs><g id="d33"><circle cx="1199.6" cy="1580.0" r="10.9"/><circle cx="1199.6" cy="1649.9" r="10.9"/><circle cx="1199.6" cy="1657.0" r="10.9"/><circle cx="1199.6" cy="1673.0" r="10.9"/><circle cx="1199.6" cy="1679.1" r="10.9"/><circle cx="1199.6" cy="1720.6" r="10.9"/></g><clipPath id="cl33"><rect x="1154.0" y="1649.2" width="88.0" height="10.4"/></clipPath><clipPath id="cd33"><rect x="1154.0" y="1659.6" width="88.0" height="17.8"/></clipPath></defs>
<use href="#d33" fill="#506273"/>
<rect x="1154.0" y="1649.2" width="88.0" height="10.4" fill="#e4e4e4"/>
<rect x="1154.0" y="1659.6" width="88.0" height="17.8" fill="#c0bfc0"/>
<g clip-path="url(#cl33)"><use href="#d33" fill="#A8ADB2"/></g>
<g clip-path="url(#cd33)"><use href="#d33" fill="#85888D"/></g>
<line x1="1154.0" x2="1242.0" y1="1649.2" y2="1649.2" stroke="#474747" stroke-width="3"/>
<line x1="1154.0" x2="1242.0" y1="1677.4" y2="1677.4" stroke="#474747" stroke-width="3"/>
<line x1="1154.0" x2="1242.0" y1="1649.2" y2="1649.2" stroke="#474747" stroke-width="4.7"/>
<line x1="1154.0" x2="1242.0" y1="1677.4" y2="1677.4" stroke="#474747" stroke-width="4.7"/>
<line x1="6" x2="1291.4" y1="53.0" y2="53.0" stroke="#5c5c5c" stroke-width="2.8"/>
<line x1="6" x2="1291.4" y1="534.1" y2="534.1" stroke="#5c5c5c" stroke-width="2.8"/>
<line x1="6" x2="1291.4" y1="1015.2" y2="1015.2" stroke="#5c5c5c" stroke-width="2.8"/>
<line x1="6" x2="1291.4" y1="1496.3" y2="1496.3" stroke="#5c5c5c" stroke-width="2.8"/>
<line x1="6" x2="1291.4" y1="1977.2" y2="1977.2" stroke="#5c5c5c" stroke-width="3.2"/>
<line x1="571.0" x2="571.0" y1="53.0" y2="1977.2" stroke="#5c5c5c" stroke-width="2.9"/>
<line x1="1289.9" x2="1289.9" y1="53.0" y2="1978.7" stroke="#555" stroke-width="3.2"/>
<line x1="555" x2="565" y1="80.3" y2="80.3" stroke="#e9e9e9" stroke-width="1.6"/>
<line x1="555" x2="565" y1="192.8" y2="192.8" stroke="#e9e9e9" stroke-width="1.6"/>
<line x1="555" x2="565" y1="305.3" y2="305.3" stroke="#e9e9e9" stroke-width="1.6"/>
<line x1="555" x2="565" y1="421.1" y2="421.1" stroke="#e9e9e9" stroke-width="1.6"/>
<text id="y0_0" x="494.30" y="106.50" textLength="54.11" lengthAdjust="spacingAndGlyphs" class="num">40</text>
<text id="y0_1" x="493.27" y="213.70" textLength="55.17" lengthAdjust="spacingAndGlyphs" class="num">30</text>
<text id="y0_2" x="493.27" y="326.10" textLength="55.17" lengthAdjust="spacingAndGlyphs" class="num">20</text>
<text id="y0_3" x="491.07" y="441.50" textLength="57.42" lengthAdjust="spacingAndGlyphs" class="num">10</text>
<text id="y0_4" x="519.83" y="521.40" textLength="29.03" lengthAdjust="spacingAndGlyphs" class="num">0</text>
<text id="rot0_0" class="rot" transform="translate(438.4,505.47) rotate(-90)" textLength="113.44" lengthAdjust="spacingAndGlyphs">Cycle</text>
<text id="rot0_1" class="rot" transform="translate(438.4,378.90) rotate(-90)" textLength="210.94" lengthAdjust="spacingAndGlyphs">Threshold</text>
<text id="rot0_2" class="rot" transform="translate(438.4,153.30) rotate(-90)" textLength="78.44" lengthAdjust="spacingAndGlyphs">(Ct)</text>
<line x1="555" x2="565" y1="561.4" y2="561.4" stroke="#e9e9e9" stroke-width="1.6"/>
<line x1="555" x2="565" y1="673.9" y2="673.9" stroke="#e9e9e9" stroke-width="1.6"/>
<line x1="555" x2="565" y1="786.4" y2="786.4" stroke="#e9e9e9" stroke-width="1.6"/>
<line x1="555" x2="565" y1="902.2" y2="902.2" stroke="#e9e9e9" stroke-width="1.6"/>
<text id="y1_0" x="494.30" y="587.60" textLength="54.11" lengthAdjust="spacingAndGlyphs" class="num">40</text>
<text id="y1_1" x="493.27" y="694.80" textLength="55.17" lengthAdjust="spacingAndGlyphs" class="num">30</text>
<text id="y1_2" x="493.27" y="807.20" textLength="55.17" lengthAdjust="spacingAndGlyphs" class="num">20</text>
<text id="y1_3" x="491.07" y="922.60" textLength="57.42" lengthAdjust="spacingAndGlyphs" class="num">10</text>
<text id="y1_4" x="519.83" y="1002.50" textLength="29.03" lengthAdjust="spacingAndGlyphs" class="num">0</text>
<text id="rot1_0" class="rot" transform="translate(438.4,986.57) rotate(-90)" textLength="113.44" lengthAdjust="spacingAndGlyphs">Cycle</text>
<text id="rot1_1" class="rot" transform="translate(438.4,860.00) rotate(-90)" textLength="210.94" lengthAdjust="spacingAndGlyphs">Threshold</text>
<text id="rot1_2" class="rot" transform="translate(438.4,634.40) rotate(-90)" textLength="78.44" lengthAdjust="spacingAndGlyphs">(Ct)</text>
<line x1="555" x2="565" y1="1042.5" y2="1042.5" stroke="#e9e9e9" stroke-width="1.6"/>
<line x1="555" x2="565" y1="1155.0" y2="1155.0" stroke="#e9e9e9" stroke-width="1.6"/>
<line x1="555" x2="565" y1="1267.5" y2="1267.5" stroke="#e9e9e9" stroke-width="1.6"/>
<line x1="555" x2="565" y1="1383.3" y2="1383.3" stroke="#e9e9e9" stroke-width="1.6"/>
<text id="y2_0" x="494.30" y="1068.70" textLength="54.11" lengthAdjust="spacingAndGlyphs" class="num">40</text>
<text id="y2_1" x="493.27" y="1175.90" textLength="55.17" lengthAdjust="spacingAndGlyphs" class="num">30</text>
<text id="y2_2" x="493.27" y="1288.30" textLength="55.17" lengthAdjust="spacingAndGlyphs" class="num">20</text>
<text id="y2_3" x="491.07" y="1403.70" textLength="57.42" lengthAdjust="spacingAndGlyphs" class="num">10</text>
<text id="y2_4" x="519.83" y="1483.60" textLength="29.03" lengthAdjust="spacingAndGlyphs" class="num">0</text>
<text id="rot2_0" class="rot" transform="translate(438.4,1467.67) rotate(-90)" textLength="113.44" lengthAdjust="spacingAndGlyphs">Cycle</text>
<text id="rot2_1" class="rot" transform="translate(438.4,1341.10) rotate(-90)" textLength="210.94" lengthAdjust="spacingAndGlyphs">Threshold</text>
<text id="rot2_2" class="rot" transform="translate(438.4,1115.50) rotate(-90)" textLength="78.44" lengthAdjust="spacingAndGlyphs">(Ct)</text>
<line x1="555" x2="565" y1="1523.6" y2="1523.6" stroke="#e9e9e9" stroke-width="1.6"/>
<line x1="555" x2="565" y1="1636.1" y2="1636.1" stroke="#e9e9e9" stroke-width="1.6"/>
<line x1="555" x2="565" y1="1748.6" y2="1748.6" stroke="#e9e9e9" stroke-width="1.6"/>
<line x1="555" x2="565" y1="1864.4" y2="1864.4" stroke="#e9e9e9" stroke-width="1.6"/>
<text id="y3_0" x="494.30" y="1549.80" textLength="54.11" lengthAdjust="spacingAndGlyphs" class="num">40</text>
<text id="y3_1" x="493.27" y="1657.00" textLength="55.17" lengthAdjust="spacingAndGlyphs" class="num">30</text>
<text id="y3_2" x="493.27" y="1769.40" textLength="55.17" lengthAdjust="spacingAndGlyphs" class="num">20</text>
<text id="y3_3" x="491.07" y="1884.80" textLength="57.42" lengthAdjust="spacingAndGlyphs" class="num">10</text>
<text id="y3_4" x="519.83" y="1964.70" textLength="29.03" lengthAdjust="spacingAndGlyphs" class="num">0</text>
<text id="rot3_0" class="rot" transform="translate(438.4,1948.77) rotate(-90)" textLength="113.44" lengthAdjust="spacingAndGlyphs">Cycle</text>
<text id="rot3_1" class="rot" transform="translate(438.4,1822.20) rotate(-90)" textLength="210.94" lengthAdjust="spacingAndGlyphs">Threshold</text>
<text id="rot3_2" class="rot" transform="translate(438.4,1596.60) rotate(-90)" textLength="78.44" lengthAdjust="spacingAndGlyphs">(Ct)</text>
<line x1="570.5" x2="570.5" y1="1983" y2="1991" stroke="#efefef" stroke-width="1.6"/>
<line x1="750.9" x2="750.9" y1="1983" y2="1991" stroke="#efefef" stroke-width="1.6"/>
<line x1="930.5" x2="930.5" y1="1983" y2="1991" stroke="#efefef" stroke-width="1.6"/>
<line x1="1110.2" x2="1110.2" y1="1983" y2="1991" stroke="#efefef" stroke-width="1.6"/>
<line x1="1290" x2="1290" y1="1983" y2="1991" stroke="#efefef" stroke-width="1.6"/>
<text id="t_target" x="25.00" y="40.00" textLength="143.14" lengthAdjust="spacingAndGlyphs">Target</text>
<text id="t_assay" x="864.80" y="42.00" textLength="127.31" lengthAdjust="spacingAndGlyphs">Assay</text>
<text id="t_legend" x="1325.11" y="48.00" textLength="125.59" lengthAdjust="spacingAndGlyphs">Assay</text>
<text id="t_sars" x="23.61" y="312.60" textLength="254.91" lengthAdjust="spacingAndGlyphs">SARS-CoV-2</text>
<text id="t_rsv" x="24.80" y="794.60" textLength="85.51" lengthAdjust="spacingAndGlyphs">RSV</text>
<text id="t_flua" x="24.74" y="1275.40" textLength="104.72" lengthAdjust="spacingAndGlyphs">Flu A</text>
<text id="t_flub" x="24.78" y="1756.00" textLength="104.96" lengthAdjust="spacingAndGlyphs">Flu B</text>
<text id="t_soc" x="618.40" y="2039.70" textLength="81.60" lengthAdjust="spacingAndGlyphs">SoC</text>
<text id="t_tp" x="813.00" y="2039.70" textLength="52.55" lengthAdjust="spacingAndGlyphs">TP</text>
<text id="t_pc" x="991.44" y="2039.70" textLength="54.64" lengthAdjust="spacingAndGlyphs">PC</text>
<text id="t_gx" x="1166.27" y="2039.70" textLength="60.15" lengthAdjust="spacingAndGlyphs">GX</text>
<rect x="1334" y="71.0" width="41.5" height="40.5" fill="#E8510A" stroke="#DA4A08" stroke-width="1"/>
<text id="lg_SoC" x="1391.80" y="108.80" textLength="81.39" lengthAdjust="spacingAndGlyphs">SoC</text>
<rect x="1334" y="134.8" width="41.5" height="40.5" fill="#8ECBE8" stroke="#84C0DE" stroke-width="1"/>
<text id="lg_TP" x="1393.50" y="172.60" textLength="52.14" lengthAdjust="spacingAndGlyphs">TP</text>
<rect x="1334" y="198.7" width="41.5" height="40.5" fill="#FF7F0E" stroke="#F2770A" stroke-width="1"/>
<text id="lg_PC" x="1391.03" y="236.50" textLength="54.86" lengthAdjust="spacingAndGlyphs">PC</text>
<rect x="1334" y="262.7" width="41.5" height="40.5" fill="#52606D" stroke="#495562" stroke-width="1"/>
<text id="lg_GX" x="1391.77" y="300.50" textLength="60.04" lengthAdjust="spacingAndGlyphs">GX</text>
<rect x="1470.6" y="60" width="7" height="60" fill="#fff"/>
</svg></body></html>
